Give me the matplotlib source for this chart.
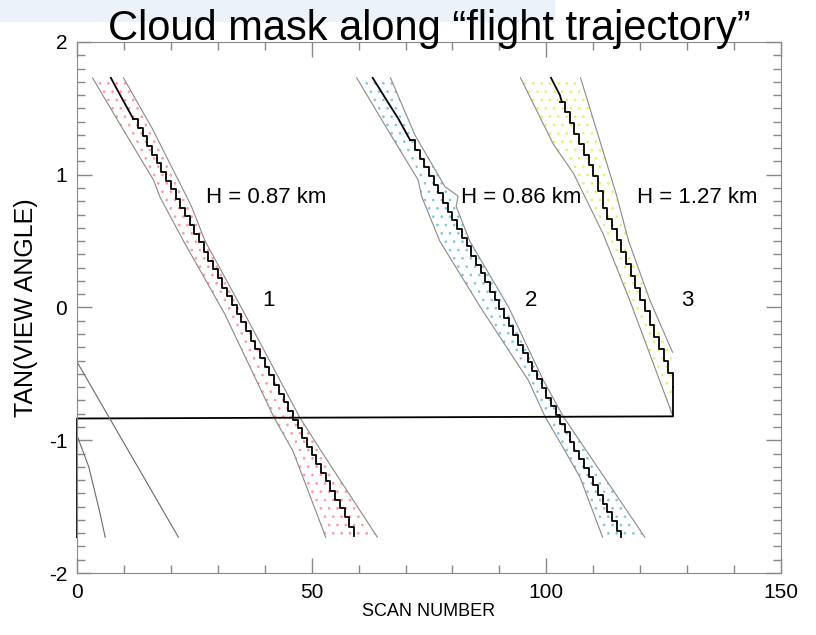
import matplotlib.pyplot as plt
from matplotlib.ticker import MultipleLocator
from matplotlib.patches import Rectangle

plt.rcParams['font.family'] = ['Liberation Sans', 'DejaVu Sans']
plt.rcParams['hatch.linewidth'] = 0.7

# --- band edges (scan number, tan(view angle)) ---
b1_left_x = [3.3, 10, 16.3, 17.7, 22.7, 31.5, 42, 46, 53]
b1_left_y = [1.73, 1.33, 0.96, 0.83, 0.50, -0.05, -0.83, -1.08, -1.73]
b1_right_x = [9.9, 16, 23, 24.4, 27.3, 35, 47.5, 52, 64]
b1_right_y = [1.73, 1.35, 0.86, 0.76, 0.50, 0.0, -0.83, -1.08, -1.73]

b2_left_x = [59.6, 66, 72.7, 73.4, 77.3, 86, 96.2, 99.7, 103.5, 107.2, 112]
b2_left_y = [1.73, 1.35, 0.96, 0.84, 0.50, 0.0, -0.55, -0.82, -1.05, -1.28, -1.73]
b2_right_x = [66.8, 72, 78.4, 81.2, 80.8, 83.7, 92, 99.4, 103.6, 108, 121]
b2_right_y = [1.73, 1.30, 0.91, 0.84, 0.76, 0.50, 0.0, -0.55, -0.82, -1.05, -1.73]

b3_left_x = [94.5, 99.4, 101.5, 105.8, 112.1, 117.8, 126.9]
b3_left_y = [1.73, 1.38, 1.23, 1.01, 0.555, 0.053, -0.81]
b3_right_x = [107.3, 115, 117.5, 122.1, 126.9]
b3_right_y = [1.73, 0.843, 0.505, 0.053, -0.337]

# --- center lines ---
c1_top_x = [7.2, 9.5, 12]
c1_top_y = [1.73, 1.58, 1.42]
c1_scan = list(range(12, 60))
c1_tan = [1.42, 1.35, 1.29, 1.22, 1.15, 1.09, 1.02, 0.95, 0.89, 0.82,
          0.75, 0.69, 0.62, 0.55, 0.49, 0.42, 0.35, 0.29, 0.22, 0.15,
          0.09, 0.02, -0.05, -0.11, -0.18, -0.25, -0.31, -0.38, -0.45, -0.51,
          -0.58, -0.65, -0.71, -0.78, -0.85, -0.91, -0.98, -1.05, -1.11, -1.18,
          -1.25, -1.31, -1.38, -1.45, -1.51, -1.58, -1.65, -1.72]

c2_top_x = [63, 66, 68.5, 71]
c2_top_y = [1.73, 1.56, 1.42, 1.26]
c2_scan = list(range(71, 117))
c2_tan = [1.26, 1.19, 1.12, 1.06, 0.99, 0.92, 0.86, 0.79, 0.72, 0.66,
          0.59, 0.52, 0.46, 0.39, 0.32, 0.26, 0.19, 0.12, 0.06, -0.01,
          -0.08, -0.14, -0.21, -0.28, -0.34, -0.41, -0.48, -0.54, -0.61, -0.68,
          -0.74, -0.81, -0.88, -0.94, -1.01, -1.08, -1.14, -1.21, -1.28, -1.34,
          -1.41, -1.48, -1.54, -1.61, -1.68, -1.73]

c3_top_x = [101, 102.9, 103.3]
c3_top_y = [1.73, 1.60, 1.55]
c3_scan = list(range(103, 128))
c3_tan = [1.55, 1.47, 1.39, 1.31, 1.23, 1.15, 1.07, 0.99, 0.88, 0.75,
          0.67, 0.59, 0.51, 0.42, 0.33, 0.24, 0.15, 0.06, -0.03, -0.13,
          -0.22, -0.31, -0.40, -0.49, -0.60]

# trajectory wrap back to the left edge
wrap_x = [127, 127, 0, 0]
wrap_y = [-0.60, -0.82, -0.836, -1.73]

# edges of the previous band (wrapped)
e0a_x = [0, 21.6]
e0a_y = [-0.41, -1.73]
e0b_x = [0, 2.5, 4.9, 6.0]
e0b_y = [-0.964, -1.2, -1.55, -1.73]

labels_h = ['H = 0.87 km', 'H = 0.86 km', 'H = 1.27 km']
labels_h_x = [27.5, 81.8, 119.3]
labels_h_y = [0.83, 0.83, 0.83]
labels_n = ['1', '2', '3']
labels_n_x = [39.4, 95.5, 128.8]
labels_n_y = [0.05, 0.05, 0.05]

fig = plt.figure(figsize=(8.16, 6.35), dpi=100)
fig.patches.append(Rectangle((0, 0.965), 0.68, 0.035, transform=fig.transFigure,
                             facecolor='#ecf2f9', edgecolor='none', zorder=0))
ax = fig.add_axes([0.0944, 0.0976, 0.8626, 0.8363])

bands = [(b1_left_x, b1_left_y, b1_right_x, b1_right_y, '#ff9a9a'),
         (b2_left_x, b2_left_y, b2_right_x, b2_right_y, '#7fc8e0'),
         (b3_left_x, b3_left_y, b3_right_x, b3_right_y, '#eeee70')]
for lx, ly, rx, ry, col in bands:
    ax.fill(lx + rx[::-1], ly + ry[::-1], facecolor='none', edgecolor=col,
            hatch='..', lw=0)
    ax.plot(lx, ly, color='#8a8a8a', lw=0.8)
    ax.plot(rx, ry, color='#8a8a8a', lw=0.8)

for tx, ty, sx, sy in [(c1_top_x, c1_top_y, c1_scan, c1_tan),
                       (c2_top_x, c2_top_y, c2_scan, c2_tan),
                       (c3_top_x, c3_top_y, c3_scan, c3_tan)]:
    ax.plot(tx, ty, color='black', lw=1.3)
    ax.step(sx, sy, where='post', color='black', lw=1.3)

ax.plot(wrap_x, wrap_y, color='black', lw=1.3, clip_on=False)
ax.plot(e0a_x, e0a_y, color='#6a6a6a', lw=0.8)
ax.plot(e0b_x, e0b_y, color='#6a6a6a', lw=0.8)

for t, x, y in zip(labels_h, labels_h_x, labels_h_y):
    ax.text(x, y, t, fontsize=16, ha='left', va='center')
for t, x, y in zip(labels_n, labels_n_x, labels_n_y):
    ax.text(x, y, t, fontsize=16, ha='left', va='center')

ax.set_xlim(0, 150)
ax.set_ylim(-2, 2)
ax.xaxis.set_major_locator(MultipleLocator(50))
ax.xaxis.set_minor_locator(MultipleLocator(10))
ax.yaxis.set_major_locator(MultipleLocator(1))
ax.yaxis.set_minor_locator(MultipleLocator(0.1))
ax.tick_params(which='both', direction='in', top=True, right=True,
               color='#888888', labelsize=15, pad=7)
ax.tick_params(which='major', length=11, width=1)
ax.tick_params(which='minor', length=6, width=1)
ax.set_yticks([-2, -1, 0, 1, 2])
ax.set_yticklabels(['-2', '-1', '0', '1', '2'])
for s in ax.spines.values():
    s.set_color('#888888')
ax.set_xlabel('SCAN NUMBER', fontsize=13, labelpad=1)
ax.set_ylabel('TAN(VIEW ANGLE)', fontsize=18, labelpad=8)

fig.text(0.526, 0.937, 'Cloud mask along \u201cflight trajectory\u201d',
         fontsize=30, ha='center', va='baseline')

fig.savefig('out.png', dpi=100)
